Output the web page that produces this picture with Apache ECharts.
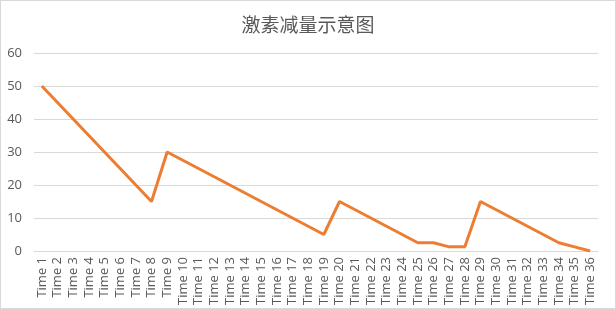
<!DOCTYPE html>
<html>
<head>
<meta charset="utf-8">
<script src="https://cdn.jsdelivr.net/npm/echarts@6/dist/echarts.min.js"></script>
<style>
html,body{margin:0;padding:0;background:#fff;}
#c{width:614px;height:307px;border:1px solid #d9d9d9;}
</style>
</head>
<body>
<div id="c"></div>
<script>
var titleText = '激素减量示意图';
var categories = [];
for (var i = 1; i <= 36; i++) categories.push('Time ' + i);
var values = [50, 45, 40, 35, 30, 25, 20, 15,
  30, 27.5, 25, 22.5, 20, 17.5, 15, 12.5, 10, 7.5, 5,
  15, 12.5, 10, 7.5, 5, 2.5, 2.5, 1.25, 1.25,
  15, 12.5, 10, 7.5, 5, 2.5, 1.25, 0];
var yMin = 0, yMax = 60, yInterval = 10;

var chart = echarts.init(document.getElementById('c'));
chart.setOption({
  animation: false,
  title: {
    text: titleText, left: 'center', top: 9,
    textStyle: {fontFamily: 'Noto Sans CJK SC', fontSize: 19, fontWeight: 'normal', color: '#595959'}
  },
  grid: {left: 33, right: 17, top: 52, bottom: 57, containLabel: false},
  xAxis: {
    type: 'category', data: categories, boundaryGap: true,
    axisLine: {lineStyle: {color: '#d9d9d9'}},
    axisTick: {show: false},
    axisLabel: {rotate: 90, interval: 0, fontSize: 13, color: '#595959', fontFamily: 'Open Sans, sans-serif', margin: 6}
  },
  yAxis: {
    type: 'value', min: yMin, max: yMax, interval: yInterval,
    axisLine: {show: false}, axisTick: {show: false},
    axisLabel: {fontSize: 13, color: '#595959', fontFamily: 'Open Sans, sans-serif', margin: 12},
    splitLine: {lineStyle: {color: '#d9d9d9'}}
  },
  series: [{
    type: 'line', data: values, symbol: 'none',
    lineStyle: {color: '#ED7D31', width: 3}
  }]
});
</script>
</body>
</html>
